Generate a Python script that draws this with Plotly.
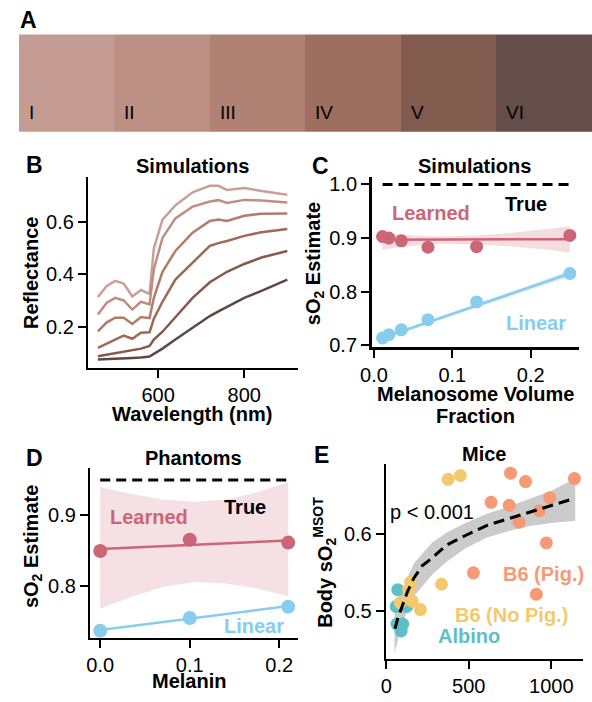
import plotly.graph_objects as go

W, H = 592, 702
FONT = "Liberation Sans, Arial, sans-serif"

# ---------------- Panel A: skin type swatches ----------------
skin_types = ["I", "II", "III", "IV", "V", "VI"]
skin_colors = ["#c49c94", "#bd9084", "#af8273", "#9d6f5f", "#815b4e", "#634e49"]

# ---------------- Panel B: simulated reflectance ----------------
wavelengths = [460, 480, 500, 520, 540, 560, 580, 590, 610, 640, 680, 720, 740, 760, 800, 840, 900]
refl_I   = [0.313, 0.355, 0.375, 0.365, 0.315, 0.340, 0.325, 0.500, 0.610, 0.665, 0.715, 0.740, 0.740, 0.724, 0.732, 0.720, 0.706]
refl_II  = [0.246, 0.290, 0.310, 0.300, 0.265, 0.295, 0.285, 0.420, 0.540, 0.615, 0.660, 0.680, 0.685, 0.674, 0.686, 0.684, 0.676]
refl_III = [0.181, 0.215, 0.234, 0.234, 0.210, 0.236, 0.232, 0.310, 0.410, 0.490, 0.560, 0.605, 0.611, 0.605, 0.625, 0.633, 0.634]
refl_IV  = [0.118, 0.135, 0.150, 0.165, 0.153, 0.176, 0.178, 0.230, 0.295, 0.380, 0.445, 0.510, 0.520, 0.528, 0.548, 0.562, 0.574]
refl_V   = [0.086, 0.092, 0.098, 0.104, 0.108, 0.115, 0.125, 0.150, 0.180, 0.235, 0.310, 0.370, 0.390, 0.410, 0.440, 0.465, 0.490]
refl_VI  = [0.073, 0.074, 0.076, 0.078, 0.079, 0.081, 0.085, 0.095, 0.115, 0.150, 0.195, 0.240, 0.258, 0.275, 0.310, 0.337, 0.380]
refl_curves = [refl_I, refl_II, refl_III, refl_IV, refl_V, refl_VI]
refl_colors = ["#c9a096", "#c08e80", "#b27b6a", "#9e6a56", "#86594b", "#5e4844"]

# ---------------- Panel C: simulations sO2 ----------------
mvf = [0.011, 0.019, 0.035, 0.069, 0.131, 0.25]
c_learned = [0.903, 0.900, 0.895, 0.883, 0.884, 0.905]
c_linear = [0.714, 0.720, 0.729, 0.748, 0.781, 0.834]
c_true = 1.0
c_fit_x = [0.011, 0.25]
c_fit_learned = [0.897, 0.898]
c_fit_linear = [0.714, 0.834]
c_band_x = [0.011, 0.05, 0.09, 0.13, 0.17, 0.21, 0.25]
c_learned_hi = [0.910, 0.905, 0.903, 0.905, 0.909, 0.915, 0.922]
c_learned_lo = [0.879, 0.886, 0.889, 0.888, 0.885, 0.880, 0.873]
c_linear_hi = [0.719, 0.737, 0.757, 0.777, 0.797, 0.818, 0.840]
c_linear_lo = [0.710, 0.730, 0.750, 0.770, 0.790, 0.809, 0.828]

# ---------------- Panel D: phantoms ----------------
melanin = [0.0, 0.1, 0.21]
d_learned = [0.849, 0.865, 0.861]
d_linear = [0.736, 0.754, 0.770]
d_true = 0.95
d_fit_x = [0.0, 0.21]
d_fit_learned = [0.852, 0.864]
d_fit_linear = [0.737, 0.771]
d_band_x = [0.0, 0.035, 0.07, 0.105, 0.14, 0.175, 0.21]
d_learned_hi = [0.940, 0.930, 0.922, 0.919, 0.922, 0.932, 0.947]
d_learned_lo = [0.767, 0.784, 0.798, 0.805, 0.803, 0.796, 0.785]

# ---------------- Panel E: mice ----------------
pig_x = [753, 844, 1140, 635, 745, 990, 927, 805, 970, 528, 909]
pig_y = [0.680, 0.669, 0.673, 0.642, 0.638, 0.648, 0.631, 0.616, 0.589, 0.550, 0.522]
nopig_x = [375, 449, 335, 148, 135, 85, 157, 207]
nopig_y = [0.672, 0.677, 0.535, 0.538, 0.528, 0.511, 0.513, 0.502]
albino_x = [70, 60, 125, 65, 100, 90]
albino_y = [0.528, 0.506, 0.506, 0.483, 0.483, 0.474]
e_fit_x = [53, 69, 128, 167, 217, 276, 365, 483, 611, 749, 868, 1006, 1124]
e_fit_y = [0.477, 0.490, 0.525, 0.543, 0.559, 0.569, 0.586, 0.599, 0.612, 0.621, 0.629, 0.638, 0.646]
e_band_x = [50, 80, 120, 170, 280, 370, 480, 610, 750, 870, 1000, 1145]
e_band_hi = [0.500, 0.520, 0.540, 0.563, 0.590, 0.603, 0.615, 0.627, 0.637, 0.647, 0.657, 0.673]
e_band_lo = [0.445, 0.470, 0.497, 0.520, 0.548, 0.565, 0.582, 0.596, 0.605, 0.611, 0.615, 0.618]

RED = "#cc6677"
BLUE = "#88ccee"
ORANGE = "#f59a75"
YELLOW = "#f3c96e"
TEAL = "#5dc0c8"


def fx(p):
    return p / W


def fy(p):
    return 1 - p / H


fig = go.Figure()

# Panel A
fig.add_trace(go.Bar(x=list(range(len(skin_types))), y=[1] * len(skin_types), width=1,
                     marker=dict(color=skin_colors, line=dict(width=0)),
                     xaxis="x", yaxis="y", hoverinfo="skip"))

# Panel B
for curve, col in zip(refl_curves, refl_colors):
    fig.add_trace(go.Scatter(x=wavelengths, y=curve, mode="lines",
                             line=dict(color=col, width=2.5), xaxis="x2", yaxis="y2"))


def band(xs, lo, hi, color, xa, ya):
    return go.Scatter(x=list(xs) + list(xs)[::-1], y=list(hi) + list(lo)[::-1],
                      fill="toself", fillcolor=color, line=dict(width=0),
                      mode="lines", xaxis=xa, yaxis=ya, hoverinfo="skip")


# Panel C
fig.add_trace(band(c_band_x, c_learned_lo, c_learned_hi, "rgba(204,102,119,0.22)", "x3", "y3"))
fig.add_trace(band(c_band_x, c_linear_lo, c_linear_hi, "rgba(136,204,238,0.35)", "x3", "y3"))
fig.add_trace(go.Scatter(x=c_fit_x, y=[c_true, c_true], mode="lines",
                         line=dict(color="black", width=3, dash="10px,6px"), xaxis="x3", yaxis="y3"))
fig.add_trace(go.Scatter(x=c_fit_x, y=c_fit_learned, mode="lines",
                         line=dict(color=RED, width=2.5), xaxis="x3", yaxis="y3"))
fig.add_trace(go.Scatter(x=c_fit_x, y=c_fit_linear, mode="lines",
                         line=dict(color=BLUE, width=2.5), xaxis="x3", yaxis="y3"))
fig.add_trace(go.Scatter(x=mvf, y=c_learned, mode="markers",
                         marker=dict(color=RED, size=13), xaxis="x3", yaxis="y3"))
fig.add_trace(go.Scatter(x=mvf, y=c_linear, mode="markers",
                         marker=dict(color=BLUE, size=13), xaxis="x3", yaxis="y3"))

# Panel D
fig.add_trace(band(d_band_x, d_learned_lo, d_learned_hi, "rgba(204,102,119,0.2)", "x4", "y4"))
fig.add_trace(go.Scatter(x=d_fit_x, y=[d_true, d_true], mode="lines",
                         line=dict(color="black", width=3, dash="10px,6px"), xaxis="x4", yaxis="y4"))
fig.add_trace(go.Scatter(x=d_fit_x, y=d_fit_learned, mode="lines",
                         line=dict(color=RED, width=2.5), xaxis="x4", yaxis="y4"))
fig.add_trace(go.Scatter(x=d_fit_x, y=d_fit_linear, mode="lines",
                         line=dict(color=BLUE, width=2.5), xaxis="x4", yaxis="y4"))
fig.add_trace(go.Scatter(x=melanin, y=d_learned, mode="markers",
                         marker=dict(color=RED, size=14), xaxis="x4", yaxis="y4"))
fig.add_trace(go.Scatter(x=melanin, y=d_linear, mode="markers",
                         marker=dict(color=BLUE, size=14), xaxis="x4", yaxis="y4"))

# Panel E
fig.add_trace(band(e_band_x, e_band_lo, e_band_hi, "#cbcbcb", "x5", "y5"))
fig.add_trace(go.Scatter(x=pig_x, y=pig_y, mode="markers",
                         marker=dict(color=ORANGE, size=13), xaxis="x5", yaxis="y5"))
fig.add_trace(go.Scatter(x=albino_x, y=albino_y, mode="markers",
                         marker=dict(color=TEAL, size=13), xaxis="x5", yaxis="y5"))
fig.add_trace(go.Scatter(x=nopig_x, y=nopig_y, mode="markers",
                         marker=dict(color=YELLOW, size=13), xaxis="x5", yaxis="y5"))
fig.add_trace(go.Scatter(x=e_fit_x, y=e_fit_y, mode="lines",
                         line=dict(color="black", width=3, dash="11px,6px"), xaxis="x5", yaxis="y5"))

axis_common = dict(showline=True, linecolor="black", linewidth=2.5, ticks="outside",
                   ticklen=8, tickwidth=2, tickcolor="black", showgrid=False, zeroline=False,
                   tickfont=dict(family=FONT, size=20, color="black"), fixedrange=True)

fig.update_layout(
    width=W, height=H, margin=dict(l=0, r=0, t=0, b=0),
    paper_bgcolor="white", plot_bgcolor="white", showlegend=False, bargap=0,
    font=dict(family=FONT, size=20, color="black"),
    xaxis=dict(domain=[fx(7), 1.0], range=[-0.5, 5.5], visible=False, anchor="y", fixedrange=True),
    yaxis=dict(domain=[fy(131), fy(32)], range=[0, 1], visible=False, anchor="x", fixedrange=True),
    xaxis2=dict(domain=[fx(78), fx(292)], range=[438, 925], tickvals=[600, 800], anchor="y2", **axis_common),
    yaxis2=dict(domain=[fy(371), fy(177)], range=[0.042, 0.774], tickvals=[0.2, 0.4, 0.6],
                tickformat=".1f", anchor="x2", **axis_common),
    xaxis3=dict(domain=[fx(367), fx(579)], range=[-0.003, 0.262], tickvals=[0.0, 0.1, 0.2],
                tickformat=".1f", anchor="y3", **axis_common),
    yaxis3=dict(domain=[fy(350), fy(177)], range=[0.697, 1.014], tickvals=[0.7, 0.8, 0.9, 1.0],
                tickformat=".1f", anchor="x3", **axis_common),
    xaxis4=dict(domain=[fx(80), fx(292)], range=[-0.011, 0.221], tickvals=[0.0, 0.1, 0.2],
                tickformat=".1f", anchor="y4", **axis_common),
    yaxis4=dict(domain=[fy(646), fy(473)], range=[0.7257, 0.967], tickvals=[0.8, 0.9],
                tickformat=".1f", anchor="x4", **axis_common),
    xaxis5=dict(domain=[fx(382), fx(583)], range=[0, 1193], tickvals=[0, 500, 1000], anchor="y5", **axis_common),
    yaxis5=dict(domain=[fy(667), fy(469)], range=[0.438, 0.692], tickvals=[0.5, 0.6],
                tickformat=".1f", anchor="x5", **axis_common),
)

ann = []


def text(t, x, y, size=20, color="black", bold=False, xanchor="center", angle=0, xref="paper", yref="paper", **kw):
    s = f"<b>{t}</b>" if bold else t
    ann.append(dict(text=s, x=x, y=y, xref=xref, yref=yref, xanchor=xanchor, yanchor="middle",
                    showarrow=False, textangle=angle,
                    font=dict(family=FONT, size=size, color=color), **kw))


# Panel A labels
for i, lab in enumerate(skin_types):
    ann.append(dict(text=lab, x=i - 0.5, y=0.2, xref="x", yref="y", xanchor="left", yanchor="middle",
                    xshift=8, showarrow=False, font=dict(family=FONT, size=19, color="black")))

# Panel letters
text("A", fx(6), fy(17), size=23, bold=True, xanchor="left")
text("B", fx(12), fy(165), size=23, bold=True, xanchor="left")
text("C", fx(304), fy(166), size=23, bold=True, xanchor="left")
text("D", fx(12), fy(463), size=23, bold=True, xanchor="left")
text("E", fx(306), fy(460), size=23, bold=True, xanchor="left")

# Titles
text("Simulations", fx(184), fy(166), bold=True)
text("Simulations", fx(472), fy(166), bold=True)
text("Phantoms", fx(185), fy(463), bold=True)
text("Mice", fx(482), fy(459), bold=True)

# Axis titles
text("Wavelength (nm)", fx(184), fy(418), bold=True)
text("Reflectance", fx(20), fy(275), bold=True, angle=-90)
text("Melanosome Volume", fx(473), fy(398), bold=True)
text("Fraction", fx(473), fy(420), bold=True)
text("sO<sub>2</sub> Estimate", fx(309), fy(265), bold=True, angle=-90)
text("Melanin", fx(181), fy(690), bold=True)
text("sO<sub>2</sub> Estimate", fx(21), fy(553), bold=True, angle=-90)
text("Body sO<sub>2</sub><sup>MSOT</sup>", fx(319), fy(569), bold=True, angle=-90)

# Series labels
text("Learned", fx(428), fy(214), color=RED, bold=True)
text("True", fx(525), fy(204), bold=True)
text("Linear", fx(535), fy(326), color=BLUE, bold=True)
text("Learned", fx(140), fy(523), color=RED, bold=True)
text("True", fx(238), fy(513), bold=True)
text("Linear", fx(247), fy(634), color=BLUE, bold=True)
text("p < 0.001", fx(384), fy(518), xanchor="left")
text("B6 (Pig.)", fx(543), fy(581), color=ORANGE, bold=True)
text("B6 (No Pig.)", fx(510), fy(623), color=YELLOW, bold=True)
text("Albino", fx(466), fy(644), color=TEAL, bold=True)

fig.update_layout(annotations=ann)

fig.write_html(
    "out.html",
    config={"displayModeBar": False, "responsive": False, "staticPlot": True},
    post_script="document.documentElement.style.margin='0';document.body.style.margin='0';"
                "document.body.style.overflow='hidden';document.documentElement.style.overflow='hidden';",
)
